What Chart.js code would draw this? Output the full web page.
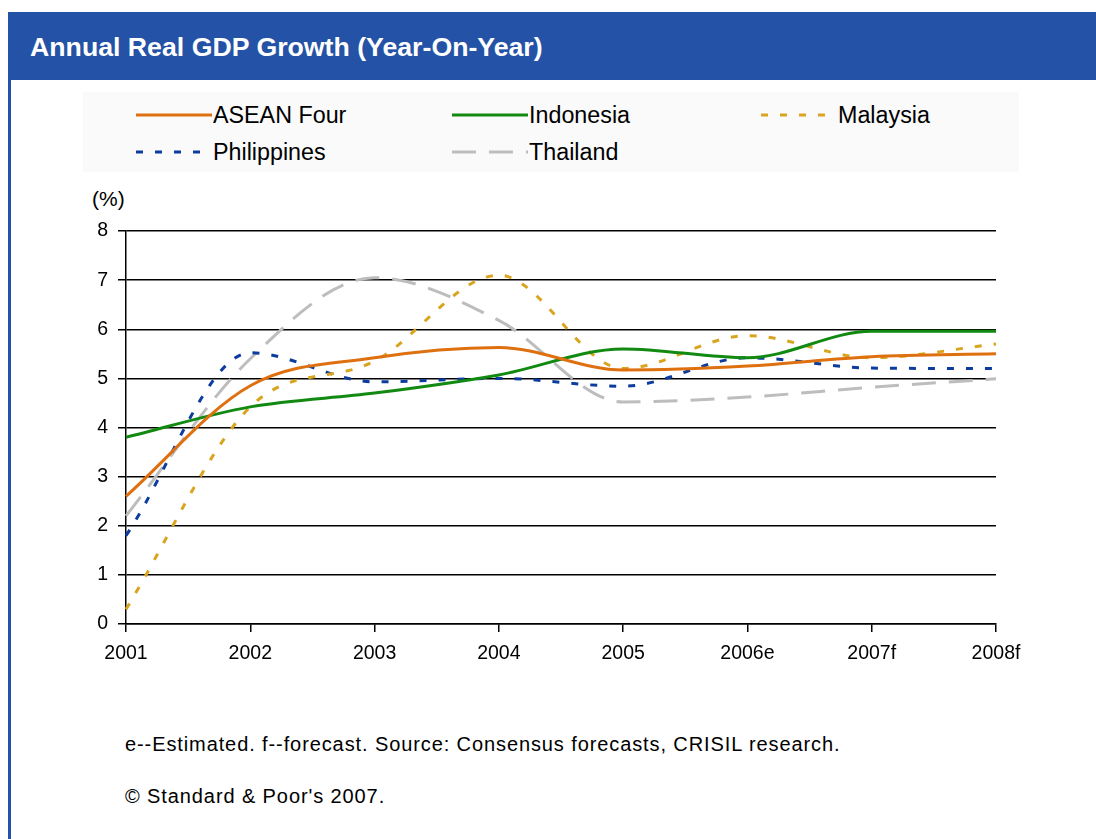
<!DOCTYPE html>
<html><head><meta charset="utf-8">
<script src="https://cdn.jsdelivr.net/npm/chart.js@4/dist/chart.umd.min.js"></script>
<style>
html,body{margin:0;padding:0;background:#fff;width:1096px;height:839px;overflow:hidden;font-family:"Liberation Sans",Arial,sans-serif;}
#panel{position:absolute;left:8px;top:12px;width:1088px;height:827px;border-left:3px solid #2352A6;box-sizing:border-box;}
#titlebar{position:absolute;left:8px;top:12px;width:1088px;height:68px;background:#2352A6;color:#fff;font-weight:bold;font-size:26.7px;line-height:70px;box-sizing:border-box;padding-left:22px;}
#legend{position:absolute;left:83px;top:92px;width:936px;height:80px;background:#FAFAFA;}
.li{position:absolute;height:26px;font-size:23.3px;color:#000;line-height:26px;}
.li svg{position:absolute;left:0;top:5px;}
.li span{position:absolute;left:78px;top:0;white-space:nowrap;}
#unit{position:absolute;left:92px;top:187px;font-size:21px;}
#wrap{position:absolute;left:0;top:180px;width:1096px;height:510px;}
.note{position:absolute;left:125px;font-size:20px;letter-spacing:0.9px;color:#000;}
</style></head><body>
<div id="panel"></div>
<div id="titlebar">Annual Real GDP Growth (Year-On-Year)</div>
<div id="legend"></div>
<div id="unit">(%)</div>
<div id="wrap"><canvas id="c" width="1096" height="510"></canvas></div>
<div class="note" style="top:733px">e--Estimated. f--forecast. Source: Consensus forecasts, CRISIL research.</div>
<div class="note" style="top:785px">© Standard &amp; Poor's 2007.</div>
<script>
const categories = ["2001","2002","2003","2004","2005","2006e","2007f","2008f"];
const aseanFour   = [2.6, 4.85, 5.42, 5.63, 5.17, 5.25, 5.44, 5.5];
const indonesia   = [3.8, 4.42, 4.7, 5.07, 5.6, 5.42, 5.96, 5.96];
const malaysia    = [0.3, 4.42, 5.35, 7.1, 5.2, 5.87, 5.42, 5.7];
const philippines = [1.8, 5.52, 4.93, 5.0, 4.84, 5.42, 5.21, 5.2];
const thailand    = [2.2, 5.4, 7.05, 6.18, 4.52, 4.62, 4.82, 4.99];
const yTicks = [0,1,2,3,4,5,6,7,8];

const series = [
  {label:"ASEAN Four", data:aseanFour, color:"#DE7010", dash:[]},
  {label:"Indonesia", data:indonesia, color:"#128A12", dash:[]},
  {label:"Malaysia", data:malaysia, color:"#D9A51E", dash:[7,12]},
  {label:"Philippines", data:philippines, color:"#0C3C9E", dash:[7,12]},
  {label:"Thailand", data:thailand, color:"#BDBDBD", dash:[24,13]}
];

// HTML legend
const pos = [[52,10],[368,10],[677,10],[52,47],[368,47]];
const leg = document.getElementById('legend');
series.forEach((s,i)=>{
  const d = document.createElement('div');
  d.className='li'; d.style.left=pos[i][0]+'px'; d.style.top=pos[i][1]+'px';
  const da = s.dash.length ? `stroke-dasharray="${s.dash.join(' ')}"` : '';
  d.innerHTML = `<svg width="78" height="16"><line x1="1" y1="8" x2="77" y2="8" stroke="${s.color}" stroke-width="3" ${da}/></svg><span>${s.label}</span>`;
  leg.appendChild(d);
});

new Chart(document.getElementById('c'), {
  type:'line',
  data:{
    labels:categories,
    datasets: series.map(s=>({
      label:s.label, data:s.data, borderColor:s.color, backgroundColor:s.color,
      borderDash:s.dash, borderWidth:3, pointRadius:0, cubicInterpolationMode:'monotone', fill:false
    }))
  },
  options:{
    responsive:false, animation:false,
    layout:{padding:{top:51,right:100,left:0,bottom:0}},
    plugins:{legend:{display:false}, tooltip:{enabled:false}},
    scales:{
      x:{
        offset:false,
        grid:{drawOnChartArea:false, drawTicks:true, tickLength:8, color:'#000', lineWidth:1.5},
        border:{display:true, color:'#000', width:1.5},
        ticks:{color:'#000', font:{family:'"Liberation Sans", Arial', size:19.5}, padding:10, maxRotation:0, autoSkip:false},
        afterFit:(a)=>{a.height=66;}
      },
      y:{
        min:0, max:8,
        afterBuildTicks:(a)=>{a.ticks = yTicks.map(v=>({value:v}));},
        grid:{color:'#000', lineWidth:1.5, tickLength:8},
        border:{display:true, color:'#000', width:1.5},
        ticks:{color:'#000', font:{family:'"Liberation Sans", Arial', size:19.5}, padding:10},
        afterFit:(a)=>{a.width=126;}
      }
    }
  }
});
</script>
</body></html>
